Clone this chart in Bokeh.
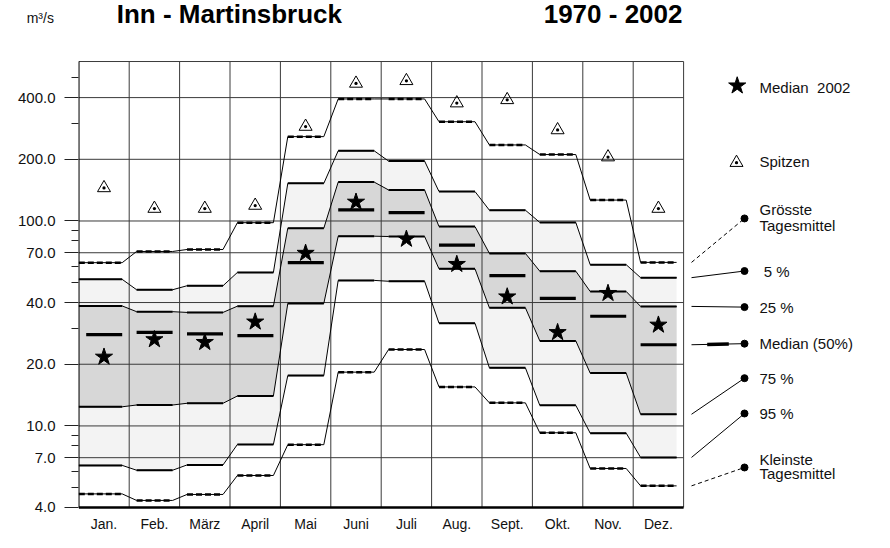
import numpy as np
from bokeh.plotting import figure
from bokeh.layouts import column
from bokeh.models import FixedTicker, PrintfTickFormatter, Range1d, Div
from bokeh.core.properties import value
from bokeh.embed import file_html
from bokeh.resources import INLINE

# ---------------- data (m3/s) ----------------
months = ["Jan.", "Feb.", "März", "April", "Mai", "Juni", "Juli", "Aug.", "Sept.", "Okt.", "Nov.", "Dez."]
groesste = [62.6, 71.0, 72.6, 98.1, 258, 394, 394, 305, 235, 211, 126.5, 62.8]
p05 = [51.9, 46.2, 48.3, 56.1, 152.6, 220, 196, 139.2, 112.9, 98.4, 61.2, 52.9]
p25 = [38.5, 36.1, 35.8, 38.4, 92.2, 154.8, 141.7, 93.9, 69.5, 56.9, 45.3, 38.3]
p50 = [27.9, 28.6, 28.1, 27.6, 62.6, 113.2, 109.9, 76.2, 54.1, 41.9, 34.3, 24.9]
p75 = [12.4, 12.65, 12.9, 14.0, 39.6, 84.3, 84.0, 58.4, 37.7, 26.0, 18.1, 11.4]
p95 = [6.42, 6.08, 6.45, 8.12, 17.6, 51.3, 50.8, 31.7, 19.2, 12.6, 9.22, 7.02]
kleinste = [4.66, 4.33, 4.63, 5.73, 8.1, 18.3, 23.6, 15.5, 12.96, 9.26, 6.2, 5.1]
median2002 = [21.7, 26.4, 25.6, 32.2, 69.7, 123.8, 81.6, 61.5, 42.7, 28.6, 44.4, 31.1]
spitzen = [145, 115, 115, 119, 289, 469, 483, 376, 390, 278, 205, 115]
major_ticks = [4, 7, 10, 20, 40, 70, 100, 200, 400]
minor_ticks = [5, 6, 8, 9, 30, 50, 60, 80, 90, 300, 500]
title = "Inn - Martinsbruck"
period = "1970 - 2002"
unit = "m³/s"

# ---------------- layout constants ----------------
FONT = value("Liberation Sans")
W = 874
HEAD_H = 40
MAIN_H = 532 - HEAD_H
N = len(months)
A, B = 7.4 / 50.4, 43.4 / 50.4          # segment start / end inside a month
X0 = -0.006
X1 = X0 + (W - 78) / 50.4
Y0, Y1 = 3.020, 759.8
YTOP = 600

# ---------------- header ----------------
ff = "font-family:'Liberation Sans',Arial,sans-serif;white-space:nowrap;position:absolute;color:#000;"
head_html = (
    f"<div style='position:relative;width:{W}px;height:{HEAD_H}px;'>"
    f"<span style=\"{ff}left:26.7px;top:11px;font-size:14px;line-height:14px;color:#111;\">{unit}</span>"
    f"<span style=\"{ff}left:116.7px;top:1px;font-size:26px;line-height:26px;font-weight:bold;\">{title}</span>"
    f"<span style=\"{ff}right:{W - 682.5}px;top:1px;font-size:26px;line-height:26px;font-weight:bold;\">{period}</span>"
    "</div>"
)
h = Div(text=head_html, width=W, height=HEAD_H, margin=0)

# ---------------- main chart ----------------
p = figure(width=W, height=MAIN_H, x_range=Range1d(X0, X1), y_range=Range1d(Y0, Y1),
           y_axis_type="log", x_axis_location=None, toolbar_location=None,
           output_backend="svg", min_border_left=78, min_border_right=0,
           min_border_top=0, min_border_bottom=0)
p.grid.visible = False
p.outline_line_color = None

ax = p.yaxis[0]
ax.ticker = FixedTicker(ticks=major_ticks, minor_ticks=minor_ticks)
ax.formatter = PrintfTickFormatter(format="%.1f")
ax.axis_line_color = None
ax.major_tick_out = 14
ax.major_tick_in = 0
ax.minor_tick_out = 7
ax.minor_tick_in = 0
ax.major_tick_line_color = "#222222"
ax.minor_tick_line_color = "#222222"
ax.major_label_standoff = 9
ax.major_label_text_font = "Liberation Sans"
ax.major_label_text_font_size = "15px"
ax.major_label_text_color = "#111111"


def path_x():
    xs = []
    for i in range(N):
        xs += [0 if i == 0 else i + A, i + B]
    return xs


def path_y(vals):
    ys = []
    for v in vals:
        ys += [v, v]
    return ys


PX = path_x()
seg_x0 = [0 if i == 0 else i + A for i in range(N)]
seg_x1 = [i + B for i in range(N)]
centers = [i + 0.5 for i in range(N)]

# fills
p.patch(PX + PX[::-1], path_y(p05) + path_y(p95)[::-1], fill_color="#f3f3f3", line_color=None)
p.patch(PX + PX[::-1], path_y(p25) + path_y(p75)[::-1], fill_color="#d7d7d7", line_color=None)

# grid and frame
hx = [t for t in major_ticks if t != 4]
p.segment(x0=[0] * len(hx), y0=hx, x1=[N] * len(hx), y1=hx, line_color="#3a3a3a", line_width=1)
vx = list(range(1, N + 1))
p.segment(x0=vx, y0=[4] * len(vx), x1=vx, y1=[YTOP] * len(vx), line_color="#3a3a3a", line_width=1)
p.segment(x0=[0], y0=[YTOP], x1=[N], y1=[YTOP], line_color="#3a3a3a", line_width=1)
p.segment(x0=[0], y0=[4], x1=[0], y1=[YTOP], line_color="black", line_width=1.5)
p.segment(x0=[0], y0=[4], x1=[N], y1=[4], line_color="black", line_width=2.5)

# series
for vals, dashed in [(groesste, True), (p05, False), (p25, False), (p75, False), (p95, False), (kleinste, True)]:
    p.line(PX, path_y(vals), line_color="black", line_width=1)
    if dashed:
        p.segment(x0=seg_x0, y0=vals, x1=seg_x1, y1=vals, line_color="black", line_width=2.5, line_dash="6 3")
    else:
        p.segment(x0=seg_x0, y0=vals, x1=seg_x1, y1=vals, line_color="black", line_width=2)

p.segment(x0=[i + A for i in range(N)], y0=p50, x1=seg_x1, y1=p50, line_color="black", line_width=3.2)

p.scatter(centers, median2002, marker="star", size=18, fill_color="black", line_color="black")
p.scatter(centers, spitzen, marker="triangle_dot", size=13, fill_color=None, line_color="black", line_width=1)

# month labels
p.text(centers, [3.341] * N, text=months, text_font=FONT, text_font_size="14px",
       text_align="center", text_baseline="alphabetic", text_color="#111111")

# legend
LX0, LXD, LXT = (691 - 78.3) / 50.4, (744 - 78.3) / 50.4, (759 - 78.3) / 50.4
p.scatter([(736.7 - 78.3) / 50.4], [457], marker="star", size=18, fill_color="black", line_color="black")
p.scatter([(736 - 78.3) / 50.4], [192.6], marker="triangle_dot", size=13, fill_color=None, line_color="black")

leg = [  # (series end value, dot y, dashed)
    (groesste[-1], 102.9, True),
    (p05[-1], 57.0, False),
    (p25[-1], 38.0, False),
    (p50[-1], 25.2, False),
    (p75[-1], 17.1, False),
    (p95[-1], 11.5, False),
    (kleinste[-1], 6.27, True),
]
for v0, vd, dashed in leg:
    p.line([LX0, LXD], [v0, vd], line_color="black", line_width=1, line_dash="4 3" if dashed else "solid")
p.scatter([LXD] * len(leg), [l[1] for l in leg], marker="circle", size=7, fill_color="black", line_color="black")
# thick piece of the median legend line
tx0, tx1 = (706.7 - 78.3) / 50.4, (728.3 - 78.3) / 50.4
ly = np.exp(np.interp([tx0, tx1], [LX0, LXD], np.log([p50[-1], 25.2])))
p.line([tx0, tx1], list(ly), line_color="black", line_width=3.5)

leg_text = ["Median\u00a0 2002", "Spitzen", "Grösste", "Tagesmittel", "5 %", "25 %", "Median (50%)",
            "75 %", "95 %", "Kleinste", "Tagesmittel"]
leg_tx = [LXT, LXT, LXT, LXT, (763.3 - 78.3) / 50.4, LXT, LXT, LXT, LXT, LXT, LXT]
leg_ty = [448.5, 196, 113.7, 95.3, 57.0, 38.0, 25.2, 17.1, 11.5, 6.82, 5.84]
p.text(leg_tx, leg_ty, text=leg_text, text_font=FONT, text_font_size="15px",
       text_align="left", text_baseline="middle", text_color="#111111")

layout = column(h, p, spacing=0)
open("out.html", "w").write(file_html(layout, INLINE))
